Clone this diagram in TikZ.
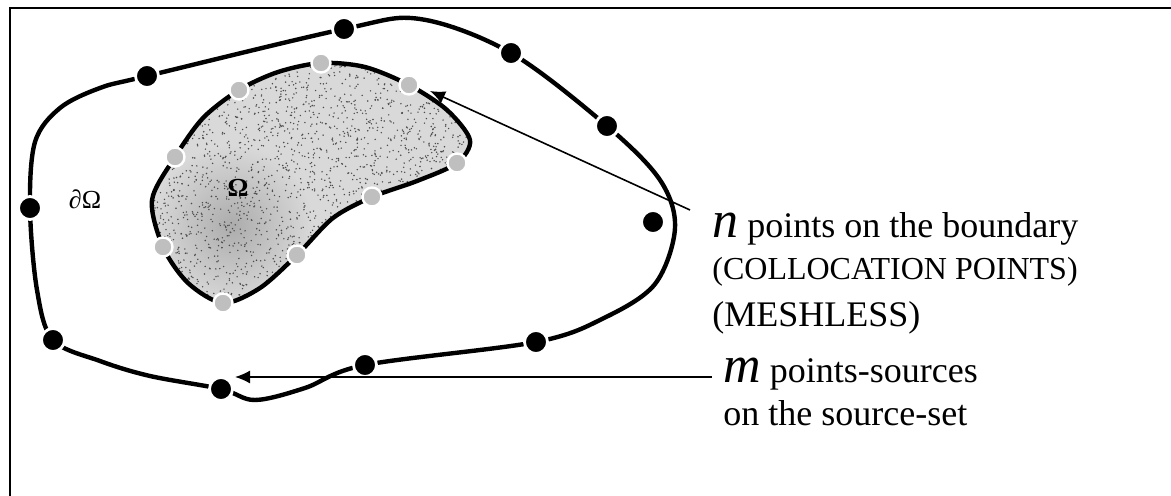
\documentclass[tikz,border=0pt]{standalone}
\usepackage{fontspec}
\setmainfont{Liberation Serif}
\usetikzlibrary{arrows.meta}

\begin{document}
\begin{tikzpicture}[x=0.5pt, y=-0.5pt, >={Latex[length=7.5pt,width=6.5pt]},
    frame/.style={line width=1pt},
    boundary/.style={line width=2.2pt},
    srcdot/.style={circle, fill=black, draw=white, line width=1.4pt, minimum size=11.5pt, inner sep=0pt},
    coldot/.style={circle, fill=gray!50, draw=white, line width=1.2pt, minimum size=9.5pt, inner sep=0pt},
    pointer/.style={line width=0.8pt, ->},
    lbl/.style={anchor=base west, inner sep=0pt, font=\fontsize{18}{18}\selectfont}]
  \useasboundingbox (0,0) rectangle (1171,496);
  % frame
  \draw[frame] (9.5,496) -- (9.5,8) -- (1171,8);
  % source set
  \foreach \n/\x/\y in {1/147/76, 2/344/29, 3/511/53, 4/607/126, 5/536/342,
                        6/365/365, 7/221/389, 8/53/340, 9/30/208}
    \coordinate (p\n) at (\x,\y);
  \draw[boundary] plot[smooth cycle, tension=0.55] coordinates {
      (p1) (p2) (420,19) (p3) (p4) (660,180) (675,228) (655,284) (604,318)
      (p5) (p6) (305,388) (255,400) (p7) (150,376) (100,361) (p8)
      (37,290) (p9) (35,142) (60,108) (100,88)};
  % domain
  \foreach \n/\x/\y in {1/321/63, 2/409/85, 3/457/163, 4/372/197, 5/297/255,
                        6/223/303, 7/163/247, 8/175/157, 9/239/90}
    \coordinate (q\n) at (\x,\y);
  \begin{scope}
    \clip plot[smooth cycle] coordinates {
        (q1) (365,67) (q2) (447,110) (470,140) (q3) (417,181) (q4) (333,218)
        (q5) (260,288) (q6) (188,283) (q7) (152,200) (q8) (203,118) (q9) (278,72)};
    \fill[gray!30] (140,50) rectangle (480,320);
    \shade[inner color=gray!65, outer color=gray!30] (232,225) circle (80);
    \pgfmathsetseed{11}
    \foreach \i in {1,...,2600}
      \fill[black!70] ({145+330*rnd},{55+260*rnd}) circle (0.8);
  \end{scope}
  \draw[boundary] plot[smooth cycle] coordinates {
      (q1) (365,67) (q2) (447,110) (470,140) (q3) (417,181) (q4) (333,218)
      (q5) (260,288) (q6) (188,283) (q7) (152,200) (q8) (203,118) (q9) (278,72)};
  % points
  \foreach \n in {1,...,9} \node[coldot] (g\n) at (q\n) {};
  \foreach \n in {1,...,9} \node[srcdot] (d\n) at (p\n) {};
  \node[font=\fontsize{13}{13}\selectfont] (dom) at (85,199) {∂Ω};
  \node[font=\fontsize{13}{13}\selectfont\bfseries] (om) at (238,188) {Ω};
  % extra point inside the bend
  \node[srcdot] (d10) at (653,222) {};
  % labels
  \node[lbl] (nline) at (712,238) {{\fontsize{26}{26}\selectfont\itshape n} points on the boundary};
  \node[lbl, font=\fontsize{16}{16}\selectfont] (cline) at (712,280) {(COLLOCATION POINTS)};
  \node[lbl] (mesh) at (712,327) {(MESHLESS)};
  \node[lbl] (mline) at (723,382) {{\fontsize{26}{26}\selectfont\itshape m} points-sources};
  \node[lbl] (sline) at (723,425) {on the source-set};
  % pointers
  \coordinate (nfrom) at (690,210);
  \coordinate (nto) at (430,91);
  \coordinate (mfrom) at (712,377);
  \coordinate (mto) at (235,377);
  \draw[pointer] (nfrom) -- (nto);
  \draw[pointer] (mfrom) -- (mto);
\end{tikzpicture}
\end{document}
